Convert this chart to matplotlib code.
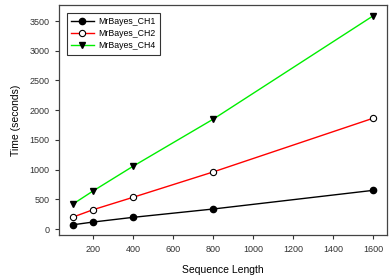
import matplotlib
matplotlib.use("Agg")
import matplotlib.pyplot as plt

plt.rcParams['font.family'] = ['Liberation Sans', 'DejaVu Sans']

seq_len = [100, 200, 400, 800, 1600]
ch1 = [72, 118, 197, 337, 651]
ch2 = [202, 325, 534, 960, 1864]
ch4 = [421, 640, 1056, 1847, 3586]

fig = plt.figure(figsize=(3.89, 2.8), dpi=100)
ax = fig.add_axes([59 / 389, 1 - 235 / 280, 328 / 389, 230 / 280])

ax.plot(seq_len, ch1, color='black', lw=1, marker='o', ms=4.5,
        mfc='black', mec='black', label='MrBayes_CH1')
ax.plot(seq_len, ch2, color='red', lw=1, marker='o', ms=4.5,
        mfc='white', mec='black', mew=0.8, label='MrBayes_CH2')
ax.plot(seq_len, ch4, color='#00ee00', lw=1, marker='v', ms=5,
        mfc='black', mec='black', label='MrBayes_CH4')

ax.set_xlim(30, 1670)
ax.set_ylim(-100, 3770)
ax.set_xticks([200, 400, 600, 800, 1000, 1200, 1400, 1600])
ax.set_yticks([0, 500, 1000, 1500, 2000, 2500, 3000, 3500])
ax.tick_params(labelsize=6.5, length=3, width=0.8, colors='#333333', pad=4)
for s in ax.spines.values():
    s.set_linewidth(0.9)
    s.set_color('#444444')

ax.set_xlabel('Sequence Length', fontsize=7.5, labelpad=8)
ax.set_ylabel('Time (seconds)', fontsize=7.5, labelpad=6)

leg = ax.legend(loc='upper left', fontsize=6.3, frameon=True, fancybox=False,
                edgecolor='black', borderpad=0.5, handlelength=2.6,
                handletextpad=0.5, labelspacing=0.35,
                bbox_to_anchor=(0.01, 0.985))
leg.get_frame().set_linewidth(0.8)

fig.savefig('out.png', dpi=100)
